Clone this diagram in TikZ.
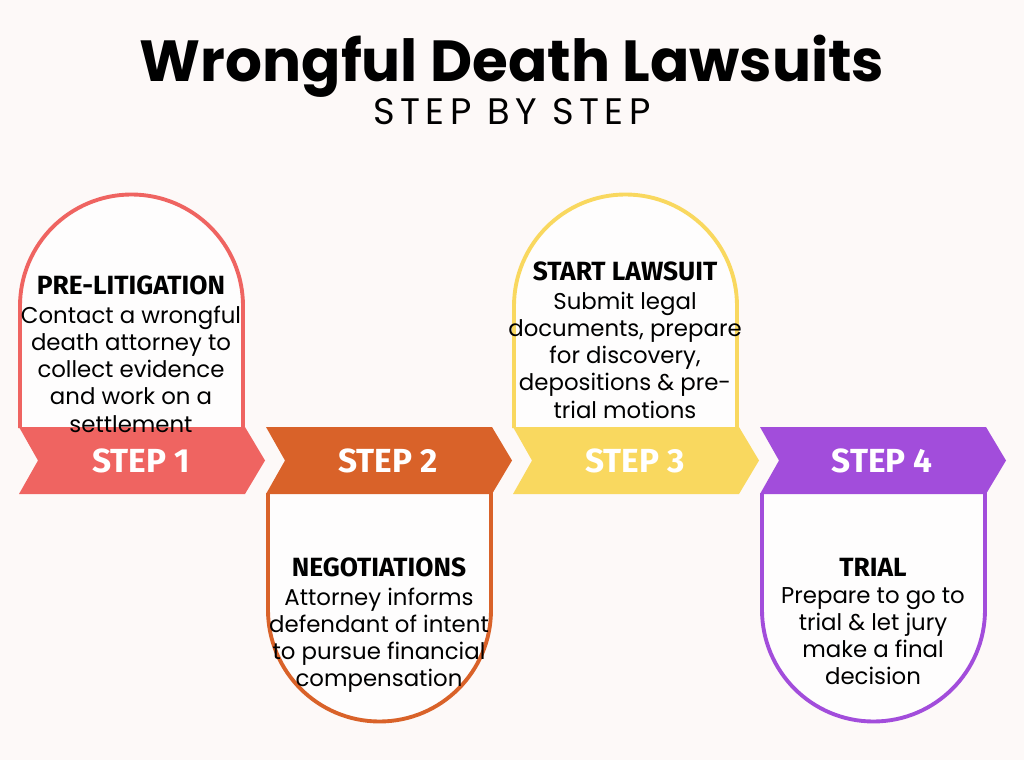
\documentclass[tikz,border=0pt]{standalone}
\usepackage{fontspec}
\setmainfont{Poppins}
\newfontfamily\headfont{Fira Sans}
\usetikzlibrary{positioning}
\definecolor{bgpaper}{HTML}{FDF9F8}
\definecolor{stepone}{HTML}{EF6461}
\definecolor{steptwo}{HTML}{D96229}
\definecolor{stepthree}{HTML}{F9D85F}
\definecolor{stepfour}{HTML}{A24DDB}
\tikzset{
  chevtext/.style={text=white, font=\headfont\bfseries\fontsize{19}{19}\selectfont},
  headtext/.style={font=\headfont\bfseries\fontsize{15}{15}\selectfont, inner sep=1pt},
  bodytext/.style={align=center, font=\fontsize{13}{15.5}\selectfont, inner sep=0pt},
  archline/.style={line width=2.2pt, fill=white!70!bgpaper},
}
\begin{document}
\begin{tikzpicture}[x=0.02cm, y=-0.02cm]
\fill[bgpaper] (0,0) rectangle (1024,760);
\useasboundingbox (0,0) rectangle (1024,760);

\node (title) at (512,66) {\fontsize{33}{33}\selectfont\bfseries Wrongful Death Lawsuits};
\node (subtitle) at (512,112) {\fontsize{21}{21}\selectfont\addfontfeatures{LetterSpace=15}STEP BY STEP};

% arches above (steps 1 and 3)
\foreach \xl/\col in {20/stepone, 514/stepthree}
  \draw[archline, draw=\col] (\xl,428) -- (\xl,306) arc[start angle=180, end angle=360, radius=111.5] -- (\xl+223,428);
% arches below (steps 2 and 4)
\foreach \xl/\col in {268/steptwo, 762/stepfour}
  \draw[archline, draw=\col] (\xl,493) -- (\xl,610) arc[start angle=180, end angle=0, radius=111.5] -- (\xl+223,493);

% chevrons
\foreach \n/\xl/\col in {1/19/stepone, 2/266/steptwo, 3/513/stepthree, 4/760/stepfour}
{
  \fill[\col] (\xl,427) -- (\xl+226,427) -- (\xl+246,460.5) -- (\xl+226,494)
    -- (\xl,494) -- (\xl+19,460.5) -- cycle;
  \node[chevtext] (step\n) at (\xl+122,460.5) {STEP \n};
}

% step texts
\node[headtext] (head1) at (131,285) {PRE-LITIGATION};
\node[bodytext, below=5pt of head1] (body1) {Contact a wrongful\\death attorney to\\collect evidence\\and work on a\\settlement};

\node[headtext] (head2) at (379,567) {NEGOTIATIONS};
\node[bodytext, below=5pt of head2] (body2) {Attorney informs\\defendant of intent\\to pursue financial\\compensation};

\node[headtext] (head3) at (625,271) {START LAWSUIT};
\node[bodytext, below=5pt of head3] (body3) {Submit legal\\documents, prepare\\for discovery,\\depositions \& pre-\\trial motions};

\node[headtext] (head4) at (873,567) {TRIAL};
\node[bodytext, below=5pt of head4] (body4) {Prepare to go to\\trial \& let jury\\make a final\\decision};
\end{tikzpicture}
\end{document}
